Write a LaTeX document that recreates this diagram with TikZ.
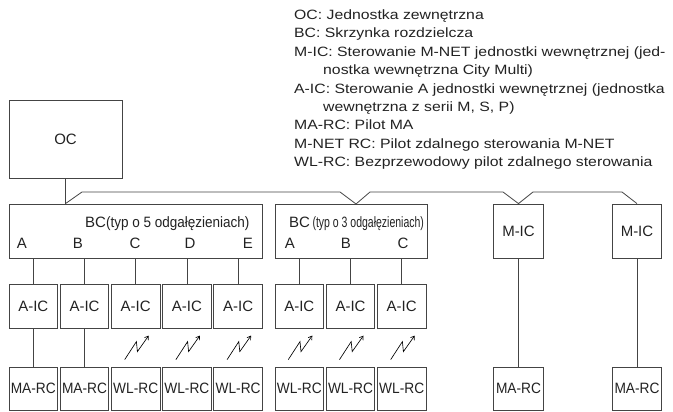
\documentclass[tikz,border=0pt]{standalone}
\usepackage{fontspec}
\setmainfont{Liberation Sans}
\newfontfamily\legendfont{Liberation Sans}[FakeStretch=1.17]
\usetikzlibrary{arrows.meta,calc}
\definecolor{ln}{HTML}{444444}
\definecolor{tx}{HTML}{222222}
\begin{document}
\begin{tikzpicture}[x=1pt,y=-1pt,
  box/.style={draw=ln,line width=0.8pt,inner sep=0pt,text=tx,font=\fontsize{15}{18}\selectfont},
  wire/.style={draw=ln,line width=0.8pt},
  legend/.style={anchor=base west,inner sep=0pt,text=tx,font=\legendfont\fontsize{13.5}{16}\selectfont},
  lab/.style={anchor=base,inner sep=0pt,text=tx,font=\fontsize{15}{18}\selectfont},
  radio/.style={draw=black,line width=0.65pt,-{Straight Barb[length=3.5pt,width=4.5pt]}}]
\useasboundingbox (0,0) rectangle (673,412);

% legend
\node[legend] (l0) at (294,19.5) {OC: Jednostka zewnętrzna};
\node[legend] (l1) at (294,37.9) {BC: Skrzynka rozdzielcza};
\node[legend] (l2) at (294,56.3) {M-IC: Sterowanie M-NET jednostki wewnętrznej (jed-};
\node[legend] (l3) at (323,74.7) {nostka wewnętrzna City Multi)};
\node[legend] (l4) at (294,93.1) {A-IC: Sterowanie A jednostki wewnętrznej (jednostka};
\node[legend] (l5) at (323,111.5) {wewnętrzna z serii M, S, P)};
\node[legend] (l6) at (294,129.9) {MA-RC: Pilot MA};
\node[legend] (l7) at (294,148.3) {M-NET RC: Pilot zdalnego sterowania M-NET};
\node[legend] (l8) at (294,166.7) {WL-RC: Bezprzewodowy pilot zdalnego sterowania};

% main boxes
\node[box,minimum width=113,minimum height=78] (oc) at (65.5,139) {OC};
\node[box,minimum width=253,minimum height=54] (bc1) at (135.5,231) {};
\node[box,minimum width=152,minimum height=54] (bc2) at (351,231) {};
\node[box,minimum width=49.5,minimum height=54] (mic1) at (518.5,231) {M-IC};
\node[box,minimum width=49.5,minimum height=54] (mic2) at (637,231) {M-IC};

% BC labels
\node[lab,anchor=base west] (bc1t) at (85,227.5) {BC\scalebox{0.9}[1]{(typ o 5 odgałęzieniach)}};
\foreach \l/\x in {A/22,B/78,C/135,D/190,E/248}
  \node[lab] (bc1\l) at (\x,248.5) {\l};
\node[lab,anchor=base west] (bc2t) at (289,227.5) {BC\hspace{2.5pt}\scalebox{0.7}[1]{(typ o 3 odgałęzieniach)}};
\foreach \l/\x in {A/290,B/346,C/403}
  \node[lab] (bc2\l) at (\x,248.5) {\l};

% indoor control units
\foreach \i/\x in {1/33.3,2/84.5,3/135.7,4/186.9,5/238.1,6/299.3,7/350.5,8/401.7}
  \node[box,minimum width=48.6,minimum height=44] (aic\i) at (\x,306) {A-IC};

% remote controllers
\foreach \i/\x/\t in {1/33.3/MA-RC,2/84.5/MA-RC,3/135.7/WL-RC,4/186.9/WL-RC,5/238.1/WL-RC,6/299.3/WL-RC,7/350.5/WL-RC,8/401.7/WL-RC}
  \node[box,minimum width=48.6,minimum height=43] (rc\i) at (\x,388.5) {\scalebox{0.915}[1]{\t}};
\node[box,minimum width=49.5,minimum height=43] (rc9) at (518.5,388.5) {\scalebox{0.915}[1]{MA-RC}};
\node[box,minimum width=49.5,minimum height=43] (rc10) at (637,388.5) {\scalebox{0.915}[1]{MA-RC}};

% bus
\coordinate (j1) at (oc.south |- bc1.north);
\coordinate (b1) at (82,192);
\coordinate (b2) at (340,192);
\coordinate (v1) at (356,204);
\coordinate (b3) at (370,192);
\coordinate (b4) at (503,192);
\coordinate (b5) at (533,192);
\coordinate (b6) at (622,192);
\draw[wire] (oc.south) -- (j1) -- (b1) -- (b2) -- (v1) -- (b3) -- (b4) -- (mic1.north) -- (b5) -- (b6) -- (mic2.north);

% drops from branch boxes
\foreach \i in {1,...,5}
  \draw[wire] (aic\i.north |- bc1.south) -- (aic\i.north);
\foreach \i in {6,7,8}
  \draw[wire] (aic\i.north |- bc2.south) -- (aic\i.north);

% wired remotes
\draw[wire] (aic1) -- (rc1);
\draw[wire] (aic2) -- (rc2);
\draw[wire] (mic1) -- (rc9);
\draw[wire] (mic2) -- (rc10);

% wireless symbols
\foreach \i in {3,...,8}
  \draw[radio] ([shift={(-11,-7)}]rc\i.north) -- ([shift={(0.7,-25)}]rc\i.north)
     -- ([shift={(1.7,-15)}]rc\i.north) -- ([shift={(13,-31)}]rc\i.north);
\end{tikzpicture}
\end{document}
